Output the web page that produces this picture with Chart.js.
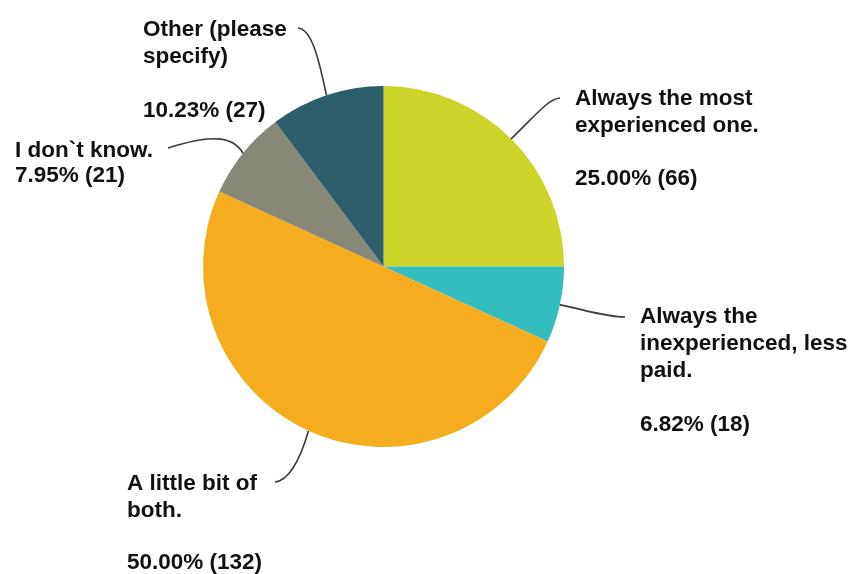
<!DOCTYPE html>
<html>
<head>
<meta charset="utf-8">
<script src="https://cdn.jsdelivr.net/npm/chart.js@4.4.1/dist/chart.umd.min.js"></script>
<style>
  html, body { margin: 0; padding: 0; background: #ffffff; }
  #wrap { width: 853px; height: 574px; }
</style>
</head>
<body>
<div id="wrap"><canvas id="pie" width="853" height="574"></canvas></div>
<script>
// Survey answers, clockwise from 12 o'clock
const categories = [
  'Always the most experienced one.',
  'Always the inexperienced, less paid.',
  'A little bit of both.',
  'I don`t know.',
  'Other (please specify)'
];
const counts = [66, 18, 132, 21, 27];
const percents = [25.00, 6.82, 50.00, 7.95, 10.23];
// Wrapped label text for each slice
const labelLines = [
  ['Always the most', 'experienced one.'],
  ['Always the', 'inexperienced, less', 'paid.'],
  ['A little bit of', 'both.'],
  ['I don`t know.'],
  ['Other (please', 'specify)']
];
const sliceColors = ['#ccd329', '#33bdbe', '#f5ac1f', '#888878', '#2e5d6b'];

// Callout placement per slice: text origin (left, first baseline), line gap,
// gap before the value line, leader end point and bezier control points.
const callouts = [
  { x: 575, y: 105, lh: 26.7, gap: 53.3, end: [560, 98],  c1: [535, 116], c2: [548, 99] },
  { x: 640, y: 323, lh: 27,   gap: 54,   end: [625, 317], c1: [582, 309], c2: [605, 317] },
  { x: 127, y: 490, lh: 26.7, gap: 52.5, end: [275, 482], c1: [302, 453], c2: [291, 480] },
  { x: 15,  y: 157, lh: 25,   gap: 25,   end: [168, 148], c1: [233, 136], c2: [212, 134] },
  { x: 143, y: 36,  lh: 27,   gap: 54,   end: [298, 28],  c1: [320, 66],  c2: [313, 29] }
];

const calloutPlugin = {
  id: 'callouts',
  afterDraw(chart) {
    const ctx = chart.ctx;
    const arcs = chart.getDatasetMeta(0).data;
    ctx.save();
    arcs.forEach((arc, i) => {
      const p = arc.getProps(['x', 'y', 'startAngle', 'endAngle', 'outerRadius'], true);
      const mid = (p.startAngle + p.endAngle) / 2;
      const ax = p.x + Math.cos(mid) * p.outerRadius;
      const ay = p.y + Math.sin(mid) * p.outerRadius;
      const c = callouts[i];
      ctx.beginPath();
      ctx.moveTo(ax, ay);
      ctx.bezierCurveTo(c.c1[0], c.c1[1], c.c2[0], c.c2[1], c.end[0], c.end[1]);
      ctx.strokeStyle = '#3a3a3a';
      ctx.lineWidth = 1.6;
      ctx.stroke();

      ctx.fillStyle = '#111111';
      ctx.font = 'bold 22.5px "Liberation Sans", Arial, sans-serif';
      ctx.textAlign = 'left';
      ctx.textBaseline = 'alphabetic';
      const lines = labelLines[i];
      lines.forEach((t, k) => ctx.fillText(t, c.x, c.y + k * c.lh));
      const valueText = percents[i].toFixed(2) + '% (' + counts[i] + ')';
      ctx.fillText(valueText, c.x, c.y + (lines.length - 1) * c.lh + c.gap);
    });
    ctx.restore();
  }
};

new Chart(document.getElementById('pie'), {
  type: 'pie',
  data: {
    labels: categories,
    datasets: [{
      data: counts,
      backgroundColor: sliceColors,
      borderWidth: 0
    }]
  },
  options: {
    responsive: false,
    animation: false,
    layout: { padding: { left: 203, right: 289, top: 86, bottom: 127 } },
    plugins: {
      legend: { display: false },
      tooltip: { enabled: false }
    }
  },
  plugins: [calloutPlugin]
});
</script>
</body>
</html>
